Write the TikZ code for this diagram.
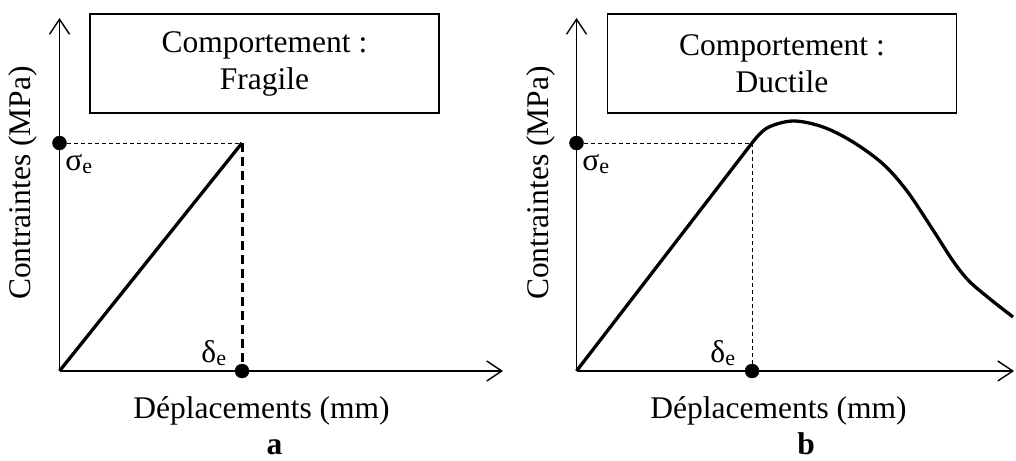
\documentclass[tikz,border=0pt]{standalone}
\usepackage{fontspec}
\setmainfont{Liberation Serif}
\usepackage{tikz}
\usetikzlibrary{arrows.meta}

\tikzset{
	axis/.style={-{Straight Barb[length=15pt,width=20pt]}, line width=1.4pt},
	curve/.style={line width=3.3pt},
	guide/.style={line width=1pt, dash pattern=on 4pt off 3pt},
	guidethick/.style={line width=3pt, dash pattern=on 9pt off 5pt},
	behaviour/.style={draw, line width=1.4pt, minimum width=349pt, minimum height=99pt, align=center},
	lbl/.style={font=\fontsize{31.5}{37}\selectfont, inner sep=0pt}
}

\begin{document}
\begin{tikzpicture}[x=1pt, y=-1pt]
		\useasboundingbox (0, 0) rectangle (1016, 460);

		% a : fragile
		\coordinate (O1) at (59.5, 371);
		\coordinate (Y1) at (59.5, 18);
		\coordinate (X1) at (503, 371);
		\coordinate (S1) at (59.5, 143);
		\coordinate (E1) at (242, 143);
		\coordinate (D1) at (242, 371);

		\draw[axis] (O1) -- (Y1);
		\draw[axis] (O1) -- (X1);
		\draw[guide] (S1) -- (E1);
		\draw[curve] (O1) -- (E1);
		\draw[guidethick] (E1) -- (D1);
		\filldraw (S1) circle (7);
		\filldraw (D1) circle (7);

		\node[behaviour, lbl] (box1) at (264.5, 63.5) {Comportement :\\Fragile};
		\node[lbl, anchor=base] (sig1) at (79, 170) {σ\textsubscript{e}};
		\node[lbl, anchor=base] (del1) at (214, 362) {δ\textsubscript{e}};
		\node[lbl, anchor=base] (xl1) at (261.5, 418) {Déplacements (mm)};
		\node[lbl, rotate=90] (yl1) at (23, 183) {Contraintes (MPa)};
		\node[lbl, anchor=base] (tag1) at (274.5, 454) {\textbf{a}};

		% b : ductile
		\coordinate (O2) at (576.5, 371);
		\coordinate (Y2) at (576.5, 18);
		\coordinate (X2) at (1014, 371);
		\coordinate (S2) at (576.5, 143);
		\coordinate (E2) at (752, 143);
		\coordinate (D2) at (752, 371);

		\draw[axis] (O2) -- (Y2);
		\draw[axis] (O2) -- (X2);
		\draw[guide] (S2) -- (E2);
		\draw[guide] (E2) -- (D2);
		\draw[curve, line join=round] (O2) -- (E2)
			plot[smooth, tension=0.55] coordinates {(752, 143) (767, 128) (793, 121) (823, 127) (853, 142) (883, 164) (907, 191) (933, 230) (953, 261) (969, 281) (990, 299) (1013, 317)};
		\filldraw (S2) circle (7);
		\filldraw (D2) circle (7);

		\node[behaviour, lbl] (box2) at (782, 63.5) {Comportement :\\Ductile};
		\node[lbl, anchor=base] (sig2) at (596, 170) {σ\textsubscript{e}};
		\node[lbl, anchor=base] (del2) at (723, 362) {δ\textsubscript{e}};
		\node[lbl, anchor=base] (xl2) at (778.5, 418) {Déplacements (mm)};
		\node[lbl, rotate=90] (yl2) at (541, 183) {Contraintes (MPa)};
		\node[lbl, anchor=base] (tag2) at (806, 454) {\textbf{b}};
	\end{tikzpicture}
\end{document}
